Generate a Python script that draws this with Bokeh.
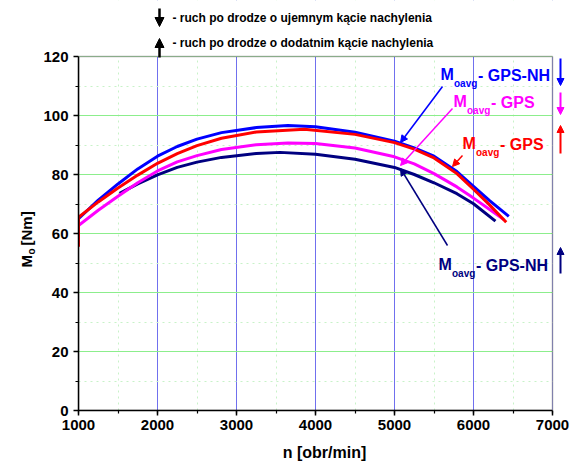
import math
from bokeh.plotting import figure
from bokeh.layouts import row
from bokeh.models import Label, Arrow, NormalHead, SingleIntervalTicker, Range1d, BoxAnnotation
from bokeh.embed import file_html
from bokeh.resources import INLINE

# ---------------- data ----------------
n_blue = [1000, 1250, 1500, 1750, 2000, 2250, 2500, 2810, 3250, 3650, 4000, 4500, 5000, 5250, 5500, 5790, 6000, 6200, 6447]
m_blue = [65.0, 71.3, 76.8, 81.9, 86.2, 89.5, 92.0, 94.2, 95.9, 96.6, 96.2, 94.3, 91.3, 89.0, 86.2, 81.0, 76.0, 71.2, 65.8]

n_red = [1000, 1000, 1250, 1500, 1750, 2000, 2250, 2500, 2810, 3250, 3860, 4500, 5000, 5250, 5500, 5790, 6000, 6200, 6414]
m_red = [55.5, 65.5, 70.7, 75.4, 79.8, 83.8, 87.1, 89.8, 92.3, 94.4, 95.3, 93.6, 90.8, 88.6, 85.6, 80.3, 75.0, 69.8, 63.8]

n_mag = [1000, 1250, 1500, 1750, 2000, 2250, 2500, 2810, 3250, 3650, 4000, 4500, 5000, 5250, 5500, 5790, 6000, 6200, 6384]
m_mag = [62.7, 67.9, 72.6, 77.2, 81.2, 84.3, 86.4, 88.5, 90.1, 90.7, 90.5, 89.0, 86.0, 83.6, 80.3, 75.8, 72.0, 68.2, 64.7]

n_navy = [1520, 1750, 2000, 2250, 2500, 2810, 3250, 3550, 4000, 4500, 5000, 5250, 5500, 5790, 6000, 6278]
m_navy = [73.6, 76.8, 79.9, 82.4, 84.2, 85.8, 87.1, 87.5, 86.9, 85.2, 82.4, 80.0, 77.2, 73.5, 70.1, 64.2]

x_min, x_max, x_step = 1000, 7000, 1000
y_min, y_max, y_step = 0, 120, 20

header_lines = ["- ruch po drodze o ujemnym kącie nachylenia",
                "- ruch po drodze o dodatnim kącie nachylenia"]

BLUE = "#0000FF"
RED = "#FF0000"
MAG = "#FF00FF"
NAVY = "#000080"
FONT = "Liberation Sans"

TOTAL_W, TOTAL_H = 570, 466
YLAB_W = 36

# page-pixel geometry of the data box
FX0, FX1, FY0, FY1 = 78, 552, 56, 410
SX = (FX1 - FX0) / (x_max - x_min)
SY = (FY1 - FY0) / (y_max - y_min)

def X(px):
    return x_min + (px - FX0) / SX
def Y(py):
    return y_max - (py - FY0) / SY

# ---------------- y label strip (frame aligned with main frame: page y 0..410) ----------------
ylab = figure(width=YLAB_W, height=TOTAL_H, x_range=Range1d(0, YLAB_W), y_range=Range1d(FY1, 0),
              x_axis_type=None, y_axis_type=None, output_backend="svg", toolbar_location=None,
              min_border_left=0, min_border_right=0, min_border_top=0,
              min_border_bottom=TOTAL_H - FY1)
ylab.outline_line_color = None
ylab.grid.visible = False
for txt, px, py, size in [("M", 26, 267, "15px"), ("o", 31, 254, "10px"), ("[Nm]", 26, 245, "15px")]:
    ylab.add_layout(Label(x=px, y=py, text=txt, angle=math.pi / 2, text_font=FONT,
                          text_font_style="bold", text_font_size=size, text_color="black",
                          text_align="left", text_baseline="alphabetic"))

# ---------------- main plot ----------------
main_w = TOTAL_W - YLAB_W
p = figure(width=main_w, height=TOTAL_H,
           x_range=Range1d(x_min, X(TOTAL_W)), y_range=Range1d(y_min, Y(0)),
           output_backend="svg", toolbar_location=None,
           min_border_left=FX0 - YLAB_W, min_border_right=0, min_border_top=0,
           min_border_bottom=TOTAL_H - FY1)
p.background_fill_color = "white"
p.border_fill_color = "white"
p.outline_line_color = None

p.xaxis.ticker = SingleIntervalTicker(interval=x_step, num_minor_ticks=2)
p.yaxis.ticker = SingleIntervalTicker(interval=y_step, num_minor_ticks=2)
p.xaxis.bounds = (x_min, x_max)
p.yaxis.bounds = (y_min, y_max)
for ax in (p.xaxis, p.yaxis):
    ax.axis_line_color = "black"
    ax.axis_line_width = 1.5
    ax.major_tick_line_color = "black"
    ax.major_tick_line_width = 1.5
    ax.minor_tick_line_color = "black"
    ax.minor_tick_line_width = 1.2
    ax.major_tick_out = 5
    ax.major_tick_in = 0
    ax.minor_tick_out = 3
    ax.minor_tick_in = 0
    ax.major_label_text_font = FONT
    ax.major_label_text_font_style = "bold"
    ax.major_label_text_font_size = "15px"
    ax.major_label_text_color = "black"
p.xaxis.major_label_standoff = 4
p.yaxis.major_label_standoff = 5
p.xaxis.axis_label = "n [obr/min]"
p.xaxis.axis_label_text_font = FONT
p.xaxis.axis_label_text_font_style = "bold"
p.xaxis.axis_label_text_font_size = "16px"
p.xaxis.axis_label_text_color = "black"
p.xaxis.axis_label_standoff = 11

p.xgrid.grid_line_color = "#7070EE"
p.xgrid.grid_line_width = 1
p.ygrid.grid_line_color = "#8CEE8C"
p.ygrid.grid_line_width = 1
for g in (p.xgrid, p.ygrid):
    g.minor_grid_line_color = "#C8F2C8"
    g.minor_grid_line_dash = "dotted"
    g.minor_grid_line_width = 1

# curves
p.line(n_navy, m_navy, line_color=NAVY, line_width=3, line_join="round")
p.line(n_mag, m_mag, line_color=MAG, line_width=3, line_join="round")
p.line(n_blue, m_blue, line_color=BLUE, line_width=3, line_join="round")
p.line(n_red, m_red, line_color=RED, line_width=3, line_join="round")

# white masks outside the data box, then the box outline
p.add_layout(BoxAnnotation(bottom=y_max, fill_color="white", fill_alpha=1.0, line_color=None))
p.add_layout(BoxAnnotation(left=x_max, fill_color="white", fill_alpha=1.0, line_color=None))
p.add_layout(BoxAnnotation(left=x_min, right=x_max, bottom=y_min, top=y_max,
                           fill_alpha=0.0, line_color="black", line_width=1.5))

def arrow(x0, y0, x1, y1, color, size=8, width=1.5):
    p.add_layout(Arrow(end=NormalHead(size=size, fill_color=color, line_color=color),
                       x_start=X(x0), y_start=Y(y0), x_end=X(x1), y_end=Y(y1),
                       line_color=color, line_width=width))

# header legend
for txt, py in zip(header_lines, [17, 42]):
    p.add_layout(Label(x=X(172), y=Y(py), text=txt, text_font=FONT, text_font_style="bold",
                       text_font_size="12px", text_color="black",
                       text_align="left", text_baseline="middle"))
arrow(159, 8, 159, 26, "black", size=9, width=2.5)
arrow(159, 57, 159, 38, "black", size=9, width=2.5)

# curve annotations
def tag(px, py, rest, color):
    p.add_layout(Label(x=X(px), y=Y(py), text="M", text_font=FONT, text_font_style="bold",
                       text_font_size="16px", text_color=color, text_align="left", text_baseline="middle"))
    p.add_layout(Label(x=X(px + 13.5), y=Y(py + 9), text="oavg", text_font=FONT, text_font_style="bold",
                       text_font_size="10px", text_color=color, text_align="left", text_baseline="middle"))
    p.add_layout(Label(x=X(px + 37.5), y=Y(py + 1), text=rest, text_font=FONT, text_font_style="bold",
                       text_font_size="16px", text_color=color, text_align="left", text_baseline="middle"))

tag(440, 74, "- GPS-NH", BLUE)
tag(453, 101, "- GPS", MAG)
tag(462, 143, "- GPS", RED)
tag(438, 264, "- GPS-NH", NAVY)

arrow(442, 86, 400, 142, BLUE, size=7)
arrow(452, 108, 400, 165, MAG, size=7)
arrow(462, 155, 452, 166, RED, size=7)
arrow(447, 245, 400, 168, NAVY, size=7)

# direction arrows at the right edge
arrow(560, 58, 560, 85, BLUE, size=7, width=2)
arrow(560, 92, 560, 114, MAG, size=7, width=2)
arrow(560, 153, 560, 125, RED, size=7, width=2)
arrow(560, 273, 560, 247, NAVY, size=7, width=2)

layout = row(ylab, p)
open("out.html", "w").write(file_html(layout, INLINE))
